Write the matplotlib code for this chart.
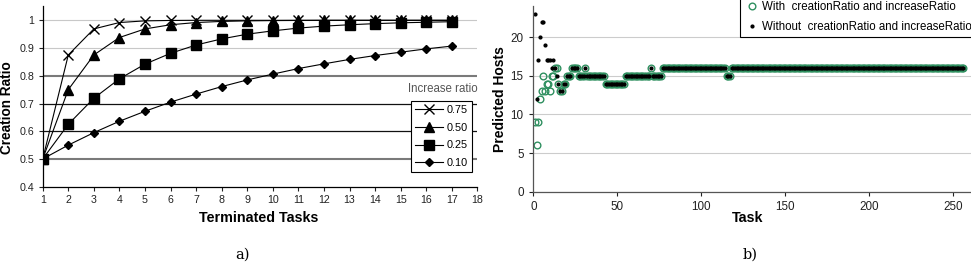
import numpy as np
import matplotlib
matplotlib.use("Agg")
import matplotlib.pyplot as plt

plt.rcParams['font.family'] = ['Liberation Sans', 'DejaVu Sans']

# ---- panel a): creation ratio vs terminated tasks ----
tasks = list(range(1, 18))
ratio_075 = [0.5, 0.875, 0.969, 0.992, 0.998, 0.9995, 1.0, 1.0, 1.0, 1.0, 1.0,
             1.0, 1.0, 1.0, 1.0, 1.0, 1.0]
ratio_050 = [0.5, 0.75, 0.875, 0.938, 0.969, 0.984, 0.992, 0.996, 0.998, 0.999,
             0.9995, 1.0, 1.0, 1.0, 1.0, 1.0, 1.0]
ratio_025 = [0.5, 0.625, 0.719, 0.789, 0.842, 0.881, 0.911, 0.933, 0.950, 0.962,
             0.972, 0.979, 0.984, 0.988, 0.991, 0.993, 0.995]
ratio_010 = [0.5, 0.55, 0.595, 0.636, 0.672, 0.705, 0.734, 0.761, 0.785, 0.806,
             0.826, 0.843, 0.859, 0.873, 0.885, 0.897, 0.907]
series_labels = ['0.75', '0.50', '0.25', '0.10']

# ---- panel b): predicted hosts per task ----
# first 20 tasks read one by one, the rest as runs of equal values
head_with = [9, 6, 9, 12, 13, 15, 13, 14, 14, 13, 15, 15, 16, 16, 14, 13, 13, 14, 14, 15]
head_without = [23, 12, 17, 20, 22, 22, 19, 17, 17, 17, 16, 17, 16, 15, 14, 13, 13, 14, 14, 15]
tail_levels = [15, 16, 15, 16, 15, 14, 15, 16, 15, 16, 15, 16]
tail_counts = [2, 4, 4, 1, 11, 12, 15, 1, 6, 38, 3, 139]

tail = list(np.repeat(tail_levels, tail_counts))
hosts_with = head_with + tail
hosts_without = head_without + tail
task_ids = list(range(1, len(hosts_with) + 1))

fig = plt.figure(figsize=(9.71, 2.62), dpi=100)

# ---------- left panel ----------
ax1 = fig.add_axes([0.044, 0.2874, 0.4476, 0.688])
grid_style = {1.0: ('#c8c8c8', 0.8), 0.9: ('#c8c8c8', 0.8), 0.8: ('#7a7a7a', 1.5),
              0.7: ('#111111', 0.9), 0.6: ('#111111', 0.9), 0.5: ('#7a7a7a', 1.5)}
for yv, (c, lw) in grid_style.items():
    ax1.axhline(yv, color=c, lw=lw, zorder=0)

lw = 0.8
h1, = ax1.plot(tasks, ratio_075, color='black', lw=lw, marker='x', ms=6.5, mew=1.0)
h2, = ax1.plot(tasks, ratio_050, color='black', lw=lw, marker='^', ms=6.5)
h3, = ax1.plot(tasks, ratio_025, color='black', lw=lw, marker='s', ms=6.5)
h4, = ax1.plot(tasks, ratio_010, color='black', lw=lw, marker='D', ms=4.5)

ax1.set_xlim(1, 18)
ax1.set_ylim(0.4, 1.05)
ax1.set_xticks(range(1, 19))
ax1.set_yticks([0.4, 0.5, 0.6, 0.7, 0.8, 0.9, 1.0])
ax1.set_yticklabels(['0.4', '0.5', '0.6', '0.7', '0.8', '0.9', '1'])
for s in ['top', 'right']:
    ax1.spines[s].set_visible(False)
for s in ['left', 'bottom']:
    ax1.spines[s].set_color('black')
    ax1.spines[s].set_linewidth(0.9)
ax1.tick_params(direction='out', length=3, width=0.8, labelsize=7.7, pad=3,
                colors='#222222')
ax1.set_xlabel('Terminated Tasks', fontsize=10.3, fontweight='bold')
ax1.set_ylabel('Creation Ratio', fontsize=9.8, fontweight='bold')
ax1.xaxis.set_label_coords(0.497, -0.174)
ax1.xaxis.label.set_va('center')
ax1.yaxis.set_label_coords(-0.082, 0.44)
ax1.yaxis.label.set_va('center')

leg1 = ax1.legend([h1, h2, h3, h4], series_labels, loc='lower left',
                  bbox_to_anchor=(0.847, 0.08), borderaxespad=0, fontsize=7.8,
                  fancybox=False, framealpha=1, edgecolor='black',
                  handlelength=2.6, labelspacing=0.7, handletextpad=0.3,
                  borderpad=0.4)
leg1.get_frame().set_linewidth(0.8)
ax1.text(0.921, 0.542, 'Increase ratio', transform=ax1.transAxes, ha='center',
         va='center', fontsize=8.3, color='#555555')

# ---------- right panel ----------
ax2 = fig.add_axes([0.5492, 0.2683, 0.4508, 0.7073])
ax2.plot(task_ids, hosts_with, ls='none', marker='o', ms=4.8, mfc='none',
         mec='#2f9060', mew=1.0, label='With  creationRatio and increaseRatio')
ax2.plot(task_ids, hosts_without, ls='none', marker='o', ms=2.0, color='black',
         label='Without  creationRatio and increaseRatio')
ax2.set_xlim(0, 260.5)
ax2.set_ylim(0, 24)
ax2.set_xticks([0, 50, 100, 150, 200, 250])
ax2.set_yticks([0, 5, 10, 15, 20])
ax2.yaxis.grid(True, color='#cccccc', lw=0.8)
ax2.set_axisbelow(True)
for s in ['top', 'right']:
    ax2.spines[s].set_visible(False)
for s in ['left', 'bottom']:
    ax2.spines[s].set_color('#555555')
    ax2.spines[s].set_linewidth(0.9)
ax2.tick_params(direction='out', length=3, width=0.8, labelsize=8.4, pad=4,
                colors='#222222')
ax2.set_xlabel('Task', fontsize=10.3, fontweight='bold')
ax2.set_ylabel('Predicted Hosts', fontsize=10, fontweight='bold')
ax2.xaxis.set_label_coords(0.49, -0.142)
ax2.xaxis.label.set_va('center')
ax2.yaxis.set_label_coords(-0.076, 0.4975)
ax2.yaxis.label.set_va('center')

leg2 = ax2.legend(loc='lower left', bbox_to_anchor=(0.762, 0.8576),
                  bbox_transform=fig.transFigure, borderaxespad=0, fontsize=8.3,
                  fancybox=False, framealpha=1, edgecolor='black',
                  handlelength=1.4, handletextpad=0.2, labelspacing=0.75,
                  borderpad=0.35)
leg2.get_frame().set_linewidth(0.8)

# captions
fig.text(243 / 971, 1 - 255 / 262, 'a)', ha='center', va='center',
         fontsize=10.5, family='DejaVu Serif')
fig.text(750 / 971, 1 - 255 / 262, 'b)', ha='center', va='center',
         fontsize=10.5, family='DejaVu Serif')

fig.savefig('out.png', dpi=100)
